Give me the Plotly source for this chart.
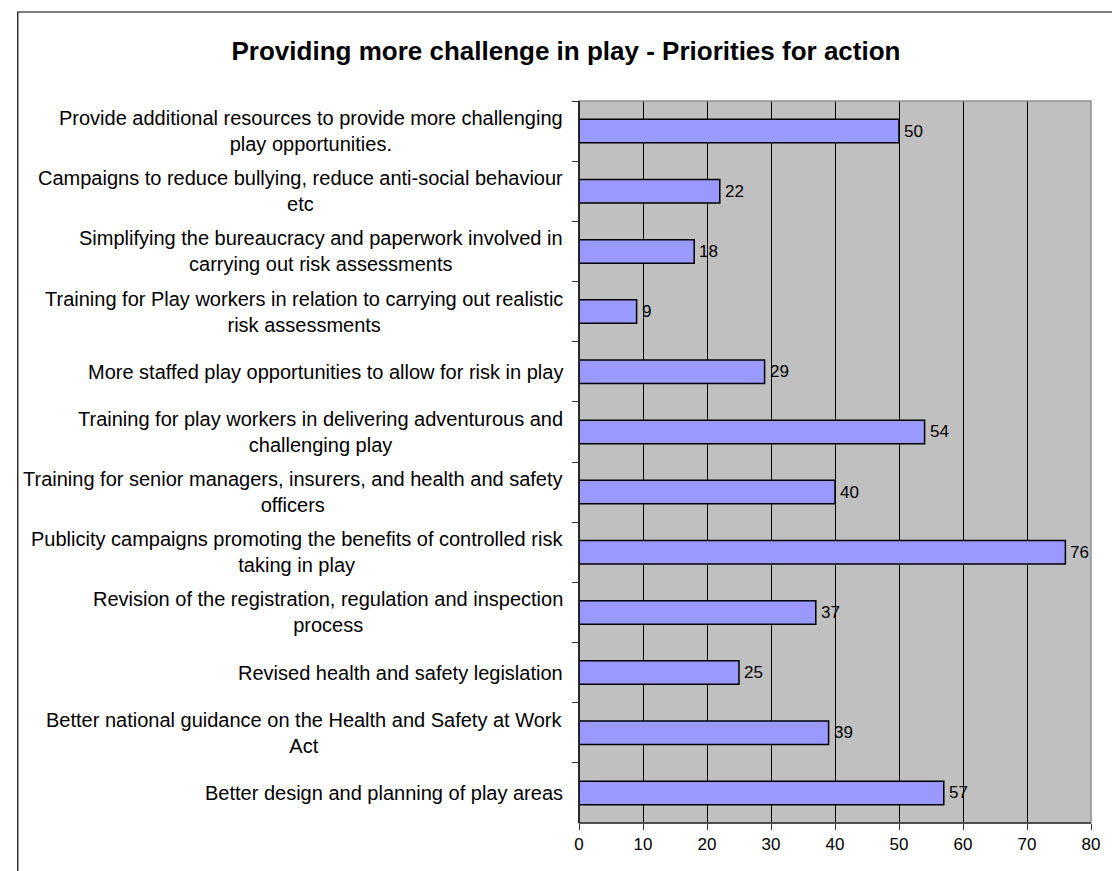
import plotly.graph_objects as go

# Survey responses: priorities for providing more challenge in play
categories = [
    "Provide additional resources to provide more challenging<br>play opportunities.",
    "Campaigns to reduce bullying, reduce anti-social behaviour<br>etc",
    "Simplifying the bureaucracy and paperwork involved in<br>carrying out risk assessments",
    "Training for Play workers in relation to carrying out realistic<br>risk assessments",
    "More staffed play opportunities to allow for risk in play",
    "Training for play workers in delivering adventurous and<br>challenging play",
    "Training for senior managers, insurers, and health and safety<br>officers",
    "Publicity campaigns promoting the benefits of controlled risk<br>taking in play",
    "Revision of the registration, regulation and inspection<br>process",
    "Revised health and safety legislation",
    "Better national guidance on the Health and Safety at Work<br>Act",
    "Better design and planning of play areas",
]
values = [50, 22, 18, 9, 29, 54, 40, 76, 37, 25, 39, 57]
x_ticks = [0, 10, 20, 30, 40, 50, 60, 70, 80]

title_text = "Providing more challenge in play - Priorities for action"

W, H = 1112, 871
L, R, T, B = 579, 1099, 101, 823  # plot area edges in pixels

FONT = "Liberation Sans, Arial, sans-serif"

keys = [f"c{i}" for i in range(len(categories))]

fig = go.Figure()
fig.add_trace(go.Bar(
    x=values,
    y=keys,
    orientation="h",
    width=0.39,
    marker=dict(color="#9999FF", line=dict(color="#000000", width=1.5)),
    hoverinfo="skip",
))

annotations = []
# category labels, centred lines, right-aligned block next to the axis
for k, label in zip(keys, categories):
    annotations.append(dict(
        x=0, xref="paper", y=k, yref="y",
        text=label, showarrow=False,
        xanchor="right", yanchor="middle", align="center",
        xshift=-14,
        font=dict(family=FONT, size=20, color="#000000"),
    ))
# value labels at the end of each bar
for k, v in zip(keys, values):
    annotations.append(dict(
        x=v, xref="x", y=k, yref="y",
        text=str(v), showarrow=False,
        xanchor="left", yanchor="middle",
        xshift=3,
        font=dict(family=FONT, size=17, color="#000000"),
    ))


def px_x(p):
    return (p - L) / (R - L)


def px_y(p):
    return (B - p) / (B - T)


shapes = [
    # outer chart frame
    dict(type="rect", xref="paper", yref="paper",
         x0=px_x(9), x1=px_x(1125), y0=px_y(885), y1=px_y(12),
         line=dict(color="#000000", width=1.2), layer="below"),
    # plot area border
    dict(type="rect", xref="paper", yref="paper",
         x0=0, x1=1, y0=0, y1=1,
         line=dict(color="#909090", width=1.5), layer="above"),
    # left and bottom axis lines
    dict(type="line", xref="paper", yref="paper", x0=0, x1=0, y0=0, y1=1,
         line=dict(color="#000000", width=1.5), layer="above"),
    dict(type="line", xref="paper", yref="paper", x0=0, x1=1, y0=0, y1=0,
         line=dict(color="#333333", width=1.5), layer="above"),
]

fig.update_layout(
    width=W, height=H,
    margin=dict(l=L, r=W - R, t=T, b=H - B, pad=0),
    paper_bgcolor="#FFFFFF",
    plot_bgcolor="#C0C0C0",
    showlegend=False,
    font=dict(family=FONT, color="#000000"),
    title=dict(
        text="<b>" + title_text + "</b>",
        x=566 / W, xref="container", xanchor="center",
        y=1 - 51 / H, yref="container", yanchor="middle",
        font=dict(family=FONT, size=26, color="#000000"),
    ),
    xaxis=dict(
        range=[0, 80],
        tickvals=x_ticks,
        ticktext=[str(t) for t in x_ticks],
        showgrid=True, gridcolor="#000000", gridwidth=1,
        zeroline=False, showline=False,
        ticks="outside", ticklen=6, tickcolor="#333333", tickwidth=1,
        tickfont=dict(family=FONT, size=17, color="#000000"),
        fixedrange=True,
    ),
    yaxis=dict(
        categoryorder="array", categoryarray=keys,
        range=[len(keys) - 0.5, -0.5],
        showticklabels=False,
        showgrid=False, zeroline=False, showline=False,
        ticks="outside", ticklen=6, tickcolor="#333333", tickwidth=1,
        tickson="boundaries",
        fixedrange=True,
    ),
    annotations=annotations,
    shapes=shapes,
)

fig.write_html("out.html")
